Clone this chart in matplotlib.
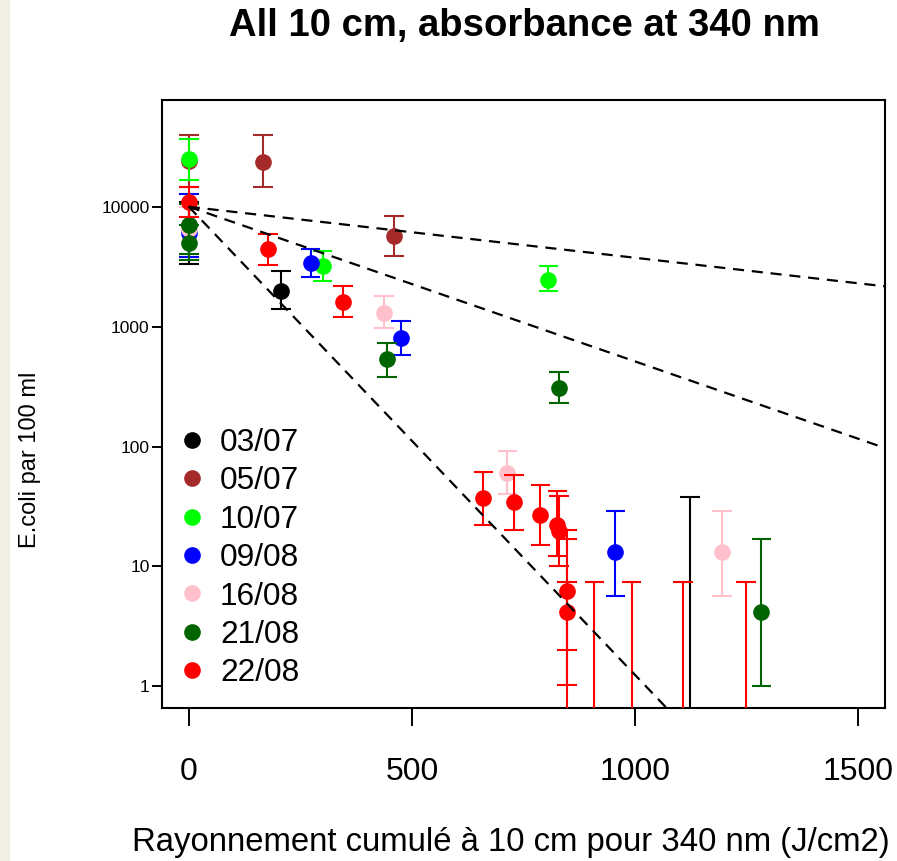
import numpy as np
import matplotlib
matplotlib.use("Agg")
import matplotlib.pyplot as plt
from matplotlib.lines import Line2D
from matplotlib.patches import Rectangle

plt.rcParams['font.family'] = ['Liberation Sans', 'DejaVu Sans']

# ---------------- data ----------------
series_names = ["03/07", "05/07", "10/07", "09/08", "16/08", "21/08", "22/08"]
series_colors = ["#000000", "#A52A2A", "#00FF00", "#0000FF", "#FFC0CB", "#006400", "#FF0000"]

x_0307 = [0, 207, 1123]
y_0307 = [7000, 2000, 0]
lo_0307 = [3300, 1400, 0]
hi_0307 = [11000, 2900, 38]

x_0507 = [0, 166, 460]
y_0507 = [24000, 23700, 5730]
lo_0507 = [14700, 14700, 3850]
hi_0507 = [40000, 39800, 8400]

x_1007 = [0, 300, 806]
y_1007 = [25000, 3190, 2465]
lo_1007 = [16800, 2390, 1970]
hi_1007 = [36600, 4250, 3185]

x_0908 = [0, 273, 475, 956]
y_0908 = [6000, 3400, 800, 13.2]
lo_0908 = [3800, 2600, 581, 5.65]
hi_0908 = [12800, 4470, 1107, 28.9]

x_1608 = [0, 437, 714, 1195]
y_1608 = [6500, 1300, 60.4, 13.2]
lo_1608 = [4000, 975, 40.6, 5.65]
hi_1608 = [10000, 1790, 91.4, 28.9]

x_2108 = [0, 0, 444, 830, 1283]
y_2108 = [7000, 5000, 534, 308, 4.16]
lo_2108 = [4000, 3600, 381, 231, 1.0]
hi_2108 = [10500, 7000, 731, 419, 17.1]

x_2208 = [0, 178, 346, 660, 728, 788, 826, 829, 847, 847, 847, 909, 992, 1108, 1248]
y_2208 = [11000, 4470, 1594, 37.4, 34.4, 27.1, 22.0, 19.7, 6.2, 4.16, 0, 0, 0, 0, 0]
lo_2208 = [8200, 3290, 1197, 22.1, 20.3, 15.2, 12.2, 10.06, 2.03, 1.02, 0, 0, 0, 0, 0]
hi_2208 = [14700, 5960, 2200, 61.5, 58.4, 48.2, 42.4, 39.0, 20.3, 17.1, 7.46, 7.46, 7.46, 7.46, 7.46]

series_x = [x_0307, x_0507, x_1007, x_0908, x_1608, x_2108, x_2208]
series_y = [y_0307, y_0507, y_1007, y_0908, y_1608, y_2108, y_2208]
series_lo = [lo_0307, lo_0507, lo_1007, lo_0908, lo_1608, lo_2108, lo_2208]
series_hi = [hi_0307, hi_0507, hi_1007, hi_0908, hi_1608, hi_2108, hi_2208]

# reference decay curves: c0 * exp(-k * x)
decay_c0 = 10000
decay_rates = [0.00098, 0.00297, 0.00899]

x_ticks = [0, 500, 1000, 1500]
y_ticks = [1, 10, 100, 1000, 10000]
y_tick_labels = ["1", "10", "100", "1000", "10000"]

title = "All 10 cm, absorbance at 340 nm"
xlabel = "Rayonnement cumulé à 10 cm pour 340 nm (J/cm2)"
ylabel = "E.coli par 100 ml"

# ---------------- figure ----------------
W, H = 897, 861
fig = plt.figure(figsize=(W / 100, H / 100), dpi=100)
fig.patches.append(Rectangle((0, 0), 9 / W, 1, transform=fig.transFigure,
                             color="#F2EFE6", zorder=-10))
ax = fig.add_axes([162 / W, 1 - 708 / H, (885 - 162) / W, (708 - 100) / H])
ax.set_yscale("log")
ax.set_xlim(-60, 1560)
ax.set_ylim(10 ** -0.18, 10 ** 4.89)

FLOOR = 1e-3
cap_half = 22
for i, (name, col) in enumerate(zip(series_names, series_colors)):
    x = np.array(series_x[i], float)
    y = np.array(series_y[i], float)
    lo = np.maximum(np.array(series_lo[i], float), FLOOR)
    hi = np.array(series_hi[i], float)
    z = 2 + i * 0.1
    ax.vlines(x, lo, hi, color=col, lw=1.5, zorder=z)
    for xx, l, h in zip(x, lo, hi):
        ax.plot([xx - cap_half, xx + cap_half], [h, h], color=col, lw=1.5,
                solid_capstyle="butt", zorder=z)
        if l > FLOOR:
            ax.plot([xx - cap_half, xx + cap_half], [l, l], color=col, lw=1.5,
                    solid_capstyle="butt", zorder=z)
    m = y > 0
    ax.plot(x[m], y[m], "o", color=col, ms=12, mec=col, mew=0, zorder=z + 0.05)

xx = np.linspace(0, 1600, 400)
for k in decay_rates:
    ax.plot(xx, decay_c0 * np.exp(-k * xx), color="black", lw=1.6,
            ls=(0, (5, 3.5)), zorder=5)

ax.yaxis.set_major_locator(matplotlib.ticker.FixedLocator(y_ticks))
ax.yaxis.set_major_formatter(matplotlib.ticker.FixedFormatter(y_tick_labels))
ax.yaxis.set_minor_locator(matplotlib.ticker.NullLocator())
ax.set_xticks(x_ticks)
ax.set_xticklabels([str(v) for v in x_ticks])
ax.tick_params(axis="x", length=13, width=1.4, labelsize=23, pad=22)
ax.tick_params(axis="y", length=7, width=1.4, labelsize=12.5, pad=2)
for s in ax.spines.values():
    s.set_linewidth(1.5)

fig.text(524 / W, 1 - 26 / H, title, ha="center", va="center",
         fontsize=27.5, fontweight="bold")
fig.text(511 / W, 1 - 843 / H, xlabel, ha="center", va="center", fontsize=23.7)
fig.text(30 / W, 1 - 460 / H, ylabel, ha="center", va="center",
         fontsize=17, rotation=90)

handles = [Line2D([], [], ls="none", marker="o", ms=12, color=c, mew=0)
           for c in series_colors]
leg = ax.legend(handles, series_names, loc="upper left", frameon=False,
                fontsize=22.8, handlelength=0.8, handletextpad=0.48,
                labelspacing=0.265, borderpad=0.0, borderaxespad=0.0)
leg.set_bbox_to_anchor((0.024, 1 - (428 - 100) / 608), transform=ax.transAxes)

fig.savefig("out.png", dpi=100)
